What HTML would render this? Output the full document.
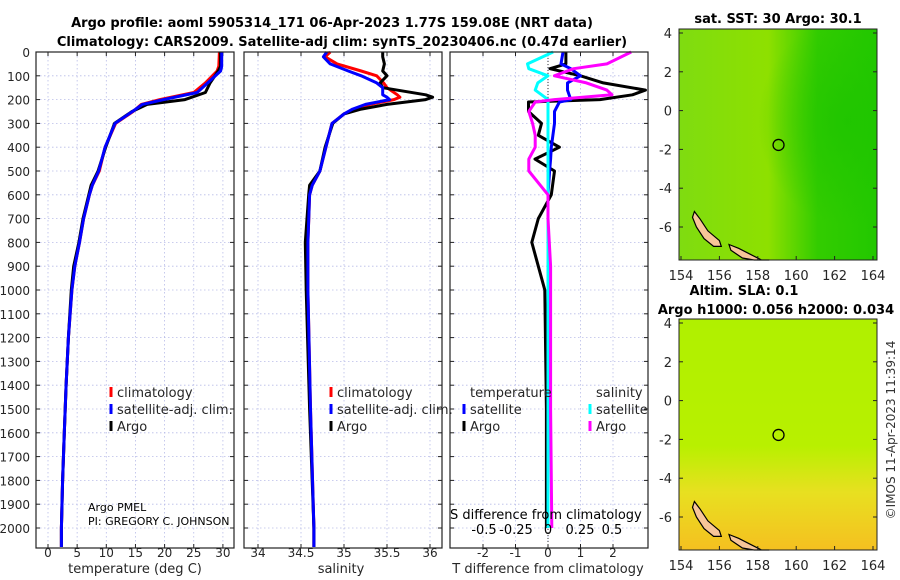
<!DOCTYPE html>
<html><head><meta charset="utf-8">
<style>
html,body{margin:0;padding:0;background:#fff;}
svg{display:block;font-family:"DejaVu Sans","Liberation Sans",sans-serif;}
</style></head>
<body>
<svg id="fig" width="900" height="580" viewBox="0 0 900 580">
<text x="332" y="27" text-anchor="middle" font-size="13" font-weight="bold" fill="#000">Argo profile: aoml 5905314_171 06-Apr-2023 1.77S 159.08E (NRT data)</text>
<text x="342" y="46" text-anchor="middle" font-size="13" font-weight="bold" fill="#000">Climatology: CARS2009. Satellite-adj clim: synTS_20230406.nc (0.47d earlier)</text>
<g id="panels"></g>
<text x="778" y="23" text-anchor="middle" font-size="13" font-weight="bold">sat. SST: 30 Argo: 30.1</text>
<text x="744" y="295" text-anchor="middle" font-size="13" font-weight="bold">Altim. SLA: 0.1</text>
<text x="776" y="314" text-anchor="middle" font-size="13" font-weight="bold">Argo h1000: 0.056 h2000: 0.034</text>
<text transform="translate(895,430) rotate(-90)" text-anchor="middle" font-size="12" fill="#333">©IMOS 11-Apr-2023 11:39:14</text>
</svg>
<script>
// ---- data ----
const depthTicks=[0,100,200,300,400,500,600,700,800,900,1000,1100,1200,1300,1400,1500,1600,1700,1800,1900,2000];
const tempTicks=[0,5,10,15,20,25,30];
const salTicks=[34,34.5,35,35.5,36];
const dTTicks=[-2,-1,0,1,2];
const dSTicks=[-0.5,-0.25,0,0.25,0.5];
const dSTickLabels=["-0.5","-0.25","0","0.25","0.5"];
const latTicks=[4,2,0,-2,-4,-6];
const lonTicks=[154,156,158,160,162,164];

const tDepth=[0,60,80,130,170,200,220,250,300,400,500,560,600,700,800,900,1000,1200,1400,1600,1800,2000,2080];
const tArgo=[29.6,29.6,29.2,27.8,27.0,23.5,17.0,14.4,11.4,9.9,8.6,7.4,7.0,6.0,5.3,4.4,4.0,3.5,3.1,2.8,2.5,2.3,2.3];
const tClim=[29.4,29.3,29.0,27.0,25.0,19.2,16.0,14.6,11.6,9.8,8.8,7.6,7.1,6.1,5.4,4.6,4.1,3.5,3.1,2.8,2.5,2.3,2.3];
const tSat =[29.8,29.8,29.6,27.4,25.6,19.8,16.2,14.5,11.5,9.8,8.7,7.6,7.1,6.1,5.4,4.6,4.1,3.5,3.1,2.8,2.5,2.3,2.3];

const sDepth=[0,20,50,80,100,130,150,180,190,200,220,240,260,300,400,500,560,600,800,1000,1500,2000,2080];
const sArgo=[35.45,35.45,35.47,35.45,35.5,35.42,35.45,35.95,36.03,35.95,35.5,35.2,35.0,34.87,34.78,34.72,34.6,34.59,34.55,34.56,34.6,34.65,34.65];
const sClim=[34.84,34.78,34.92,35.2,35.38,35.46,35.5,35.62,35.65,35.58,35.3,35.12,35.0,34.86,34.79,34.72,34.63,34.6,34.58,34.58,34.61,34.65,34.65];
const sSat =[34.8,34.76,34.84,35.05,35.2,35.38,35.45,35.45,35.5,35.53,35.25,35.1,35.0,34.86,34.79,34.72,34.63,34.6,34.58,34.58,34.61,34.65,34.65];

const dDepth=[0,50,70,100,130,160,180,200,210,250,300,350,400,450,500,600,700,800,900,1000,1500,2000];
const dTArgo=[0.55,0.55,0.06,1.0,1.7,3.0,2.6,1.6,-0.6,-0.6,-0.2,-0.3,0.35,-0.4,0.2,0.1,-0.3,-0.5,-0.3,-0.1,-0.05,-0.05];
const dTSat =[0.46,0.4,0.7,1.0,0.6,0.6,0.65,0.7,0.35,0.2,0.2,0.15,0.1,0.08,0.05,0.0,0.0,0.0,0.0,0.0,0.0,0.0];
const dSSat =[0.04,-0.16,-0.15,0.0,-0.08,-0.1,-0.05,0.0,0.0,0.0,0.0,0.0,0.0,0.0,0.0,0.0,0.0,0.0,0.0,0.0,0.0,0.0];
const dSArgo=[0.65,0.46,0.2,0.05,0.3,0.46,0.5,0.05,-0.1,-0.15,-0.12,-0.1,-0.1,-0.15,-0.15,0.0,0.0,0.01,0.02,0.02,0.02,0.03];

const argoLon=159.08, argoLat=-1.77;
const island1=[[154.7,-5.2],[155.0,-5.6],[155.4,-6.2],[156.0,-6.7],[156.1,-7.0],[155.7,-7.0],[155.2,-6.6],[154.8,-6.0],[154.6,-5.5]];
const island2=[[156.5,-6.9],[157.0,-7.1],[157.6,-7.4],[158.2,-7.7],[158.6,-7.8],[157.8,-7.8],[157.2,-7.6],[156.6,-7.2]];

// ---- helpers ----
const NS="http://www.w3.org/2000/svg";
const root=document.getElementById('panels');
function mk(tag,attrs,parent){const e=document.createElementNS(NS,tag);for(const k in attrs)e.setAttribute(k,attrs[k]);(parent||root).appendChild(e);return e;}
const Y0=52, PY=0.238, PB=548;
const yD=d=>Y0+d*PY;
const xT=v=>48+v*5.83;
const xS=v=>258+(v-34)*86;
const xDT=v=>548+v*32.5;
const xDS=v=>548+v*128;

function frame(x1,x2,name){
  const r=mk('rect',{x:x1,y:Y0,width:x2-x1,height:PB-Y0,fill:'none',stroke:'#222','stroke-width':1.2});
  
  
}
function grid(x1,x2,xs){
  const g=mk('g',{stroke:'#b8bce8','stroke-width':0.8,'stroke-dasharray':'1.5,2.5'});
  
  
  depthTicks.forEach(d=>mk('line',{x1:x1,x2:x2,y1:yD(d),y2:yD(d)},g));
  xs.forEach(x=>mk('line',{x1:x,x2:x,y1:Y0,y2:PB},g));
  const t=mk('g',{stroke:'#222','stroke-width':1});
  
  
  depthTicks.forEach(d=>{mk('line',{x1:x1,x2:x1+4,y1:yD(d),y2:yD(d)},t);mk('line',{x1:x2-4,x2:x2,y1:yD(d),y2:yD(d)},t);});
  xs.forEach(x=>{mk('line',{x1:x,x2:x,y1:PB-4,y2:PB},t);mk('line',{x1:x,x2:x,y1:Y0,y2:Y0+4},t);});
}
function line(xs,ds,fx,color,w,name){
  const p=xs.map((v,i)=>(i?'L':'M')+fx(v).toFixed(1)+','+yD(ds[i]).toFixed(1)).join('');
  const e=mk('path',{d:p,fill:'none',stroke:color,'stroke-width':w,'stroke-linejoin':'round'});
  
  
}
function txt(x,y,s,opts,name){
  const e=mk('text',Object.assign({x:x,y:y,'font-size':12,fill:'#262626'},opts||{}));
  e.textContent=s;
  
  
  return e;
}
function legendMark(x,y,color,name){
  const e=mk('line',{x1:x,x2:x,y1:y-10,y2:y,stroke:color,'stroke-width':3});
  
  
}
const TY=557, AY=573;

// ---- panel 1: temperature ----
grid(36,234,tempTicks.map(xT));
depthTicks.forEach(d=>txt(30,yD(d)+5,String(d),{'text-anchor':'end'},'depth-tick-label'));
tempTicks.forEach(v=>txt(xT(v),TY,String(v),{'text-anchor':'middle'},'temp-tick-label'));
txt(135,AY,'temperature (deg C)',{'text-anchor':'middle','font-size':13},'temp-axis-title');
line(tClim,tDepth,xT,'#ff0000',3,'temp-climatology-line');
line(tArgo,tDepth,xT,'#000',3,'temp-argo-line');
line(tSat,tDepth,xT,'#0000ff',3,'temp-satellite-line');
frame(36,234,'temperature-panel');
legendMark(111,397,'#ff0000','legend-temp-clim-mark');txt(117,397,'climatology',{'font-size':13},'legend-temp-clim');
legendMark(111,414,'#0000ff','legend-temp-sat-mark');txt(117,414,'satellite-adj. clim.',{'font-size':13},'legend-temp-sat');
legendMark(111,431,'#000','legend-temp-argo-mark');txt(117,431,'Argo',{'font-size':13},'legend-temp-argo');
txt(88,511,'Argo PMEL',{'font-size':11,fill:'#000'},'argo-institution');
txt(88,525,'PI: GREGORY C. JOHNSON',{'font-size':11,fill:'#000'},'argo-pi');

// ---- panel 2: salinity ----
grid(244,442,salTicks.map(xS));
salTicks.forEach(v=>txt(xS(v),TY,String(v),{'text-anchor':'middle'},'sal-tick-label'));
txt(341,AY,'salinity',{'text-anchor':'middle','font-size':13},'sal-axis-title');
line(sClim,sDepth,xS,'#ff0000',3,'sal-climatology-line');
line(sArgo,sDepth,xS,'#000',3,'sal-argo-line');
line(sSat,sDepth,xS,'#0000ff',3,'sal-satellite-line');
frame(244,442,'salinity-panel');
legendMark(331,397,'#ff0000','legend-sal-clim-mark');txt(337,397,'climatology',{'font-size':13},'legend-sal-clim');
legendMark(331,414,'#0000ff','legend-sal-sat-mark');txt(337,414,'satellite-adj. clim.',{'font-size':13},'legend-sal-sat');
legendMark(331,431,'#000','legend-sal-argo-mark');txt(337,431,'Argo',{'font-size':13},'legend-sal-argo');

// ---- panel 3: differences ----
grid(450,648,dTTicks.map(xDT));
const zl=mk('line',{x1:548,x2:548,y1:Y0,y2:PB,stroke:'#333','stroke-width':1,'stroke-dasharray':'1,2'});


dTTicks.forEach(v=>txt(xDT(v),TY,String(v),{'text-anchor':'middle'},'dt-tick-label'));
txt(548,AY,'T difference from climatology',{'text-anchor':'middle','font-size':13},'dt-axis-title');
line(dTArgo,dDepth,xDT,'#000',3,'dt-argo-line');
line(dTSat,dDepth,xDT,'#0000ff',3,'dt-satellite-line');
line(dSSat,dDepth,xDS,'#00ffff',3,'ds-satellite-line');
line(dSArgo,dDepth,xDS,'#ff00ff',3,'ds-argo-line');
frame(450,648,'difference-panel');
txt(450,519,'S difference from climatology',{'font-size':13,fill:'#000'},'ds-axis-title');
dSTicks.forEach((v,i)=>txt(xDS(v),534,dSTickLabels[i],{'text-anchor':'middle','font-size':13,fill:'#000'},'ds-tick-label'));
txt(470,397,'temperature',{'font-size':13},'legend-temperature-header');
txt(596,397,'salinity',{'font-size':13},'legend-salinity-header');
legendMark(464,414,'#0000ff','legend-dt-sat-mark');txt(470,414,'satellite',{'font-size':13},'legend-dt-sat');
legendMark(464,431,'#000','legend-dt-argo-mark');txt(470,431,'Argo',{'font-size':13},'legend-dt-argo');
legendMark(590,414,'#00ffff','legend-ds-sat-mark');txt(596,414,'satellite',{'font-size':13},'legend-ds-sat');
legendMark(590,431,'#ff00ff','legend-ds-argo-mark');txt(596,431,'Argo',{'font-size':13},'legend-ds-argo');

// ---- maps ----
const defs=mk('defs',{});
defs.innerHTML='<linearGradient id="sstg" x1="0" y1="0" x2="1" y2="0"><stop offset="0" stop-color="#7fdc10"/><stop offset="0.45" stop-color="#8ee000"/><stop offset="0.7" stop-color="#33cc00"/><stop offset="1" stop-color="#22c800"/></linearGradient>'+
'<radialGradient id="sstr" cx="0.85" cy="0.4" r="0.45"><stop offset="0" stop-color="#1ec400" stop-opacity="0.8"/><stop offset="1" stop-color="#1ec400" stop-opacity="0"/></radialGradient>'+
'<linearGradient id="slag" x1="0" y1="0" x2="0" y2="1"><stop offset="0" stop-color="#b0f000"/><stop offset="0.55" stop-color="#b8f000"/><stop offset="0.75" stop-color="#e8e020"/><stop offset="1" stop-color="#f5c020"/></linearGradient>';
function map(top,fill,extraFill,name){
  const lx=v=>681+(v-154)*19.2;
  const ly=v=>top+4+(4-v)*19.4;
  const g=mk('g',{});
  
  
  const h=231;
  mk('rect',{x:679,y:top,width:198,height:h,fill:fill},g);
  if(extraFill)mk('rect',{x:679,y:top,width:198,height:h,fill:extraFill},g);
  [island1,island2].forEach((isl,k)=>{
    const pts=isl.map(p=>lx(p[0]).toFixed(1)+','+Math.min(ly(p[1]),top+h).toFixed(1)).join(' ');
    const e=mk('polygon',{points:pts,fill:'#f7c598',stroke:'#000','stroke-width':1.2},g);
    
    
  });
  const c=mk('circle',{cx:lx(argoLon),cy:ly(argoLat),r:5.5,fill:'none',stroke:'#000','stroke-width':1.3},g);
  
  
  mk('rect',{x:679,y:top,width:198,height:h,fill:'none',stroke:'#222','stroke-width':1},g);
  latTicks.forEach(v=>{mk('line',{x1:679,x2:683,y1:ly(v),y2:ly(v),stroke:'#222'},g);mk('line',{x1:873,x2:877,y1:ly(v),y2:ly(v),stroke:'#222'},g);txt(672,ly(v)+5,String(v),{'text-anchor':'end','font-size':13},'lat-tick-label');});
  lonTicks.forEach(v=>{mk('line',{x1:lx(v),x2:lx(v),y1:top+h-4,y2:top+h,stroke:'#222'},g);txt(lx(v),top+h+20,String(v),{'text-anchor':'middle','font-size':13},'lon-tick-label');});
}
map(29,'url(#sstg)','url(#sstr)','sst-map');
map(319,'url(#slag)',null,'sla-map');
</script>
</body></html>
